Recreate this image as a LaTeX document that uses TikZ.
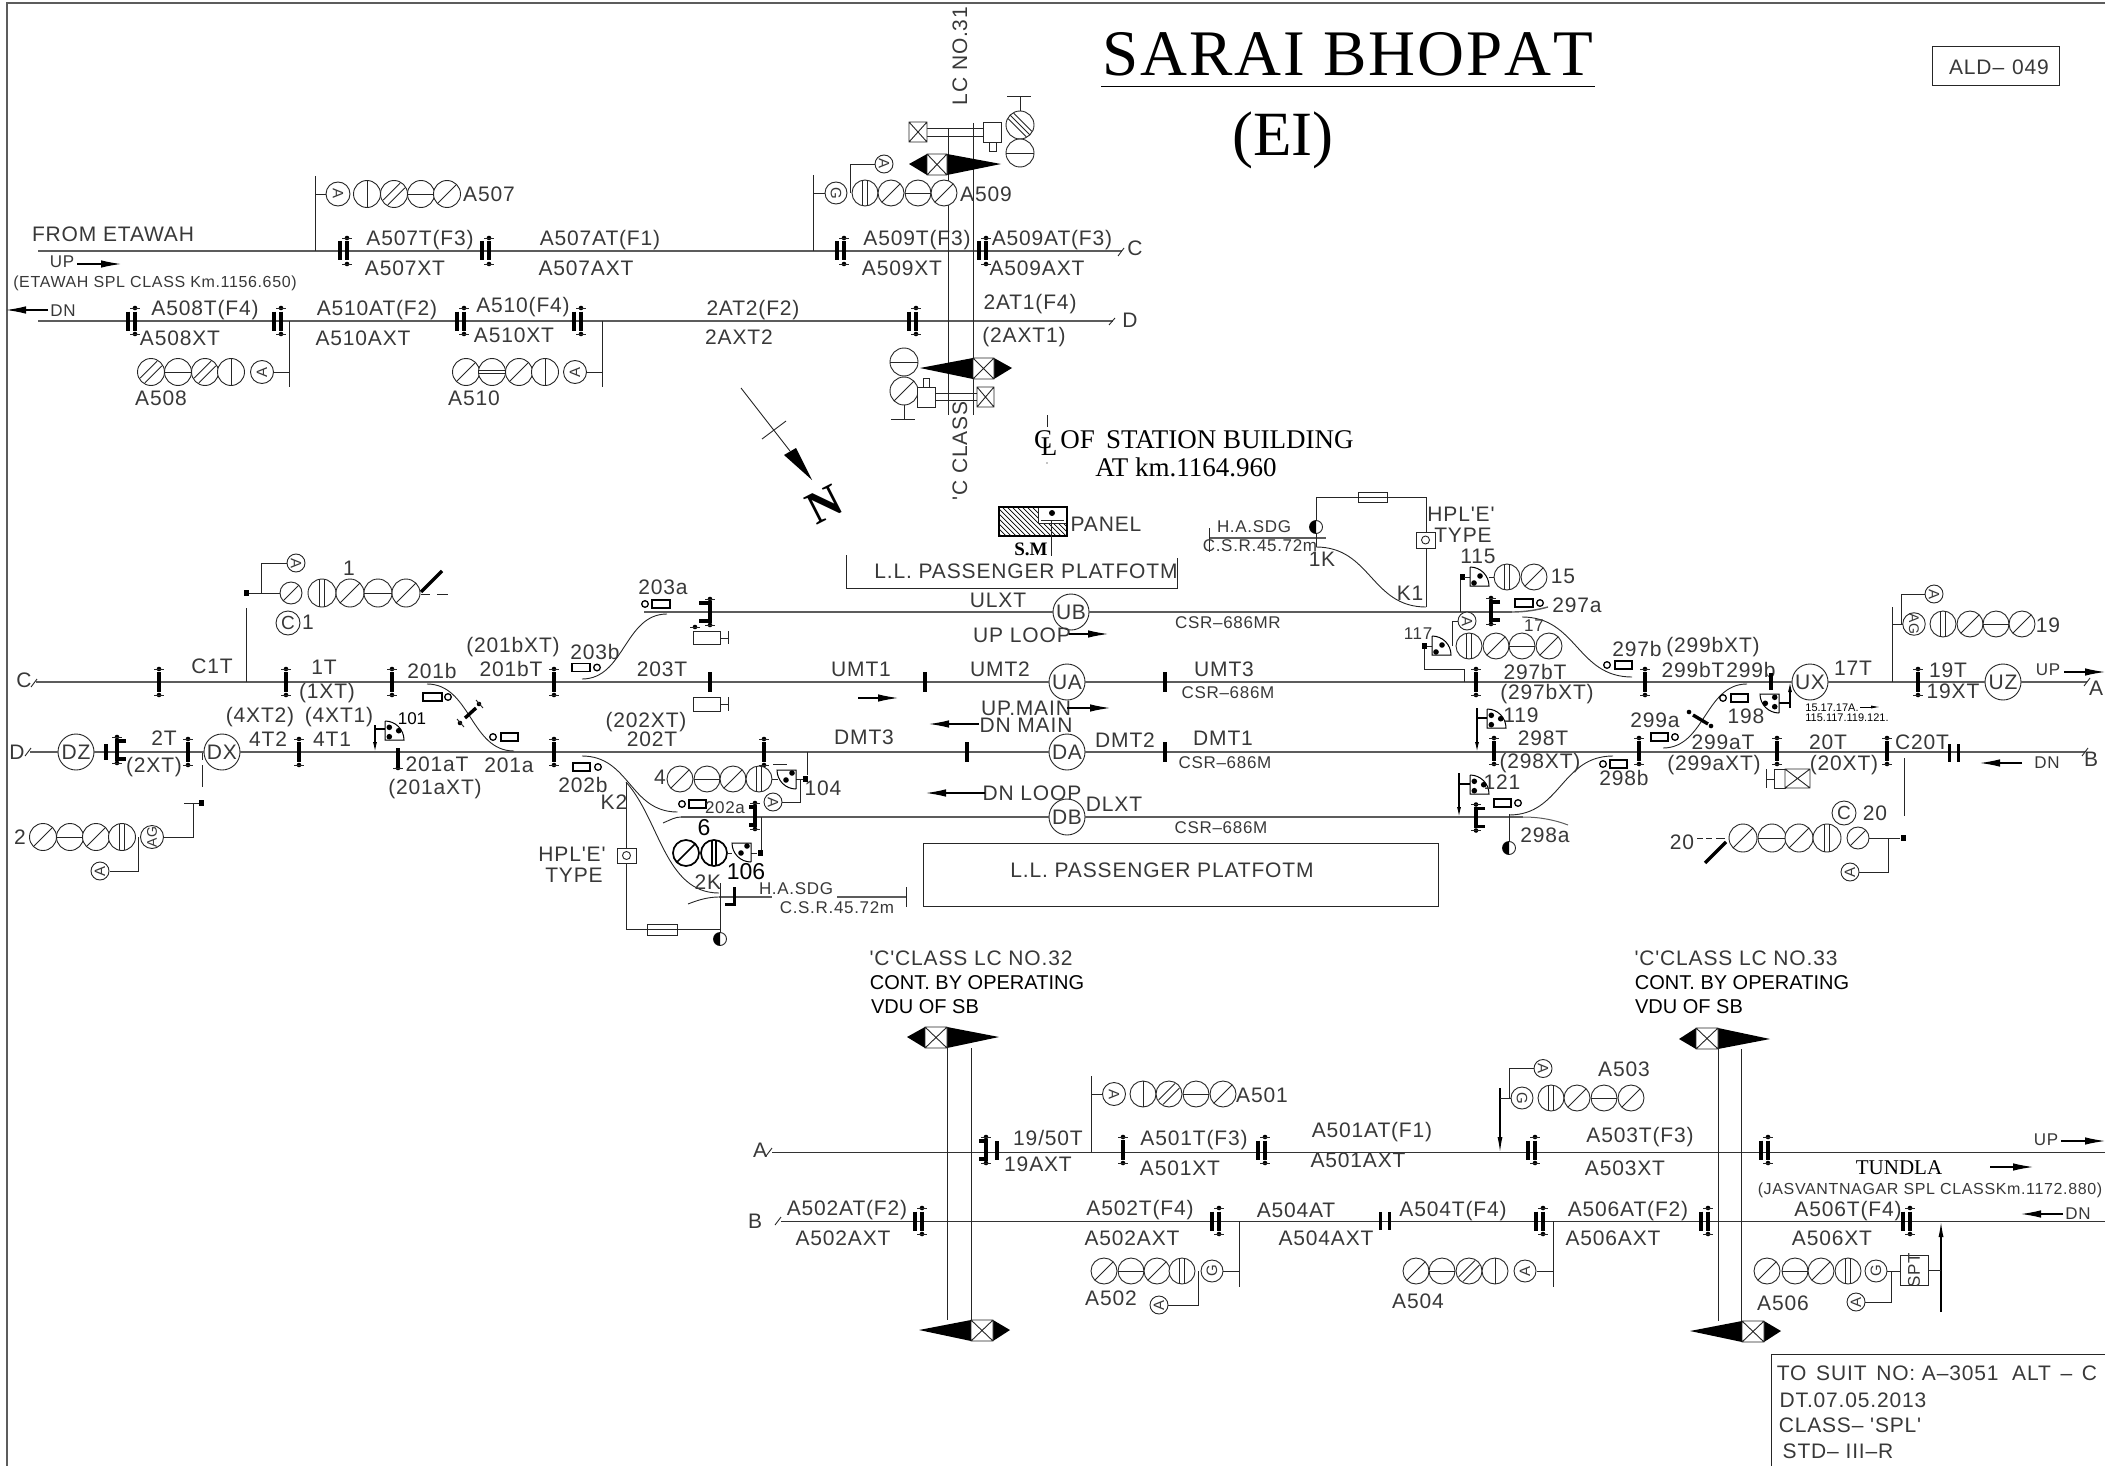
\documentclass[tikz,border=0pt]{standalone}
\usepackage{fontspec}
\usetikzlibrary{arrows.meta}
\setmainfont{Liberation Sans}
\newfontfamily\cad[LetterSpace=4]{Liberation Sans}
\newfontfamily\ser{Liberation Serif}
\definecolor{cadtext}{gray}{0.22}
\definecolor{trk}{gray}{0.36}
\newcounter{tn}
\tikzset{
  thinl/.style={line width=0.9pt,black!85},
  track/.style={line width=1.4pt,trk},
  thickb/.style={line width=3.6pt,black,line cap=butt},
  lab/.style={inner sep=0pt,text=cadtext,font=\cad\fontsize{21}{21}\selectfont},
  labs/.style={inner sep=0pt,text=cadtext,font=\cad\fontsize{17}{17}\selectfont},
  labn/.style={inner sep=0pt,text=cadtext,font=\cad\fontsize{16}{16}\selectfont},
  labb/.style={inner sep=0pt,text=black,font=\fontsize{20}{20}\selectfont},
  labt/.style={inner sep=0pt,text=black,font=\fontsize{11}{11}\selectfont},
  labser/.style={inner sep=0pt,text=black,font=\ser\fontsize{27}{27}\selectfont},
  loc/.style={circle,draw=black!85,line width=0.9pt,fill=white,minimum size=36pt,inner sep=0pt,text=cadtext,font=\cad\fontsize{21}{21}\selectfont},
  mini/.style={circle,draw=black!85,line width=0.9pt,fill=white,inner sep=0pt,text=cadtext},
  arrb/.style={line width=1.1pt,black,-{Latex[length=20pt,width=7.5pt]}},
  arrt/.style={line width=0.8pt,black,-{Latex[length=9pt,width=3pt]}}
}
% text helpers
\newcommand\lb[3]{\stepcounter{tn}\node[lab] (t\thetn) at (#1,#2) {#3};}
\newcommand\ls[3]{\stepcounter{tn}\node[labs] (t\thetn) at (#1,#2) {#3};}
\newcommand\lc[3]{\stepcounter{tn}\node[labb] (t\thetn) at (#1,#2) {#3};}
% lamp faces
\newcommand\sgV{\draw[thinl] (0,-1)--(0,1);}
\newcommand\sgW{\draw[thinl] (-.18,-.98)--(-.18,.98) (.18,-.98)--(.18,.98);}
\newcommand\sgD{\draw[thinl] (-.7,-.7)--(.7,.7);}
\newcommand\sgE{\draw[thinl] (-.8,-.45)--(.45,.8) (-.45,-.8)--(.8,.45);}
\newcommand\sgB{\draw[thinl] (-.7,.7)--(.7,-.7) (-.45,.85)--(.85,-.45) (-.85,.45)--(.45,-.85);}
\newcommand\sgH{\draw[thinl] (-1,0)--(1,0);}
\newcommand\sgI{\draw[thinl] (-.98,-.14)--(.98,-.14) (-.98,.14)--(.98,.14);}
\newcommand\sig[4]{\draw[thinl,fill=white] (#2,#3) circle[radius=#4pt];
  \begin{scope}[shift={(#2,#3)},x=#4pt,y=#4pt]\csname sg#1\endcsname\end{scope}}
\newcommand\row[3]{\foreach \tp/\xp in {#3}{\sig{\tp}{\xp}{#1}{#2}}}
% small aspect with letter
\newcommand\aspg[6]{\stepcounter{tn}\node[mini,minimum size=#4pt,rotate=#5,font=\fontsize{#6}{#6}\selectfont] (t\thetn) at (#2,#3) {#1};}
\newcommand\asp[4]{\aspg{#1}{#2}{#3}{#4}{-90}{15}}
\newcommand\aspl[4]{\aspg{#1}{#2}{#3}{#4}{90}{15}}
% track circuit joints
\newcommand\tdot[2]{\fill[black] (#1,#2) circle[radius=2.3pt]; \draw[thinl] (#1-5,#2)--(#1+5,#2);}
\newcommand\tcs[2]{\draw[thickb] (#1,#2-10)--(#1,#2+10); \tdot{#1}{#2-13}\tdot{#1}{#2+13}}
\newcommand\tcd[2]{\draw[thickb] (#1-7,#2-9.5)--(#1-7,#2+9.5) (#1,#2-9.5)--(#1,#2+9.5); \tdot{#1}{#2-13}\tdot{#1}{#2+13}}
\newcommand\tcdb[2]{\draw[thickb] (#1-4.5,#2-9)--(#1-4.5,#2+9) (#1+4.5,#2-9)--(#1+4.5,#2+9);}
\newcommand\tch[3]{\draw[line width=3.2pt,black,line join=miter] (#1+#3,#2-9)--(#1,#2-9)--(#1,#2+9)--(#1+#3,#2+9); \tdot{#1}{#2-13}\tdot{#1}{#2+13}}
% point machine, rectangle x1..x2, circle
\newcommand\ptm[5]{\draw[line width=1.3pt,black] (#1,#3-4) rectangle (#2,#3+4); \draw[line width=1.3pt,black,fill=white] (#4,#5) circle[radius=3.3pt]; }
% quarter shunt
\newcommand\shunt[5]{\begin{scope}[shift={(#1,#2)},x=#3pt,y=#4pt]
  \draw[line width=1pt,black,fill=white] (0,19)--(0,0)--(19,0) .. controls (19,10.5) and (10.5,19) .. (0,19);
  \ifnum#5=3 \fill[black] (4.3,12.7) circle[radius=2.8pt] (13.7,9.3) circle[radius=2.8pt] (4.3,3.3) circle[radius=2.8pt];
  \else \fill[black] (10,10) circle[radius=2.8pt] (4,3) circle[radius=2.8pt];\fi
  \end{scope}}
\newcommand\sq[2]{\fill[black] (#1-2.5,#2-3) rectangle (#1+2.5,#2+3);}
\newcommand\xbox[4]{\draw[thinl,fill=white] (#1,#2) rectangle (#3,#4) (#1,#2)--(#3,#4) (#1,#4)--(#3,#2);}
\newcommand\gate[7]{\fill[black] (#1,#7)--(#2,#4)--(#2,#5)--cycle (#3,#4)--(#6,#7)--(#3,#5)--cycle; \xbox{#2}{#4}{#3}{#5}}
\newcommand\fuse[4]{\draw[thinl,fill=white] (#1,#3) rectangle (#2,#4); \draw[thinl] (#1,#3/2+#4/2)--(#2,#3/2+#4/2);}
\newcommand\halfd[2]{\draw[thinl,fill=white] (#1,#2) circle[radius=6.5pt]; \fill[black] (#1,#2-6.5) arc[start angle=90,end angle=270,radius=6.5pt]--cycle;}
\newcommand\scurve[4]{\draw[thinl] (#1,#2) .. controls ({#1/2+#3/2},#2) and ({#1/2+#3/2},#4) .. (#3,#4);}
\begin{document}
\begin{tikzpicture}[x=1pt,y=-1pt]
\useasboundingbox (0,0) rectangle (2105,1466);
\draw[line width=1.5pt,trk] (7,1466)--(7,3)--(2105,3);
%% ------- named track nodes
\node[loc] (DZ) at (76,752) {DZ};
\node[loc] (DX) at (222,752) {DX};
\node[loc] (UB) at (1071,612) {UB};
\node[loc] (UA) at (1067,682) {UA};
\node[loc] (DA) at (1067,752) {DA};
\node[loc] (DB) at (1067,817) {DB};
\node[loc] (UX) at (1810,682) {UX};
\node[loc] (UZ) at (2003,682) {UZ};
\coordinate (uW) at (38,251); \coordinate (uE) at (1122,251);
\coordinate (dW) at (38,321); \coordinate (dE) at (1113,321);
\coordinate (cW) at (36,682); \coordinate (cE) at (2087,682);
\coordinate (gW) at (30,752); \coordinate (gE) at (2085,752);
\coordinate (ubW) at (644,612); \coordinate (ubE) at (1512,612);
\coordinate (dbW) at (681,817); \coordinate (dbE) at (1523,817);
\coordinate (aW) at (772,1152); \coordinate (aE) at (2105,1152);
\coordinate (bW) at (781,1221); \coordinate (bE) at (2105,1221);
\draw[track] (uW)--(uE); \draw[track] (dW)--(dE);
\draw[track] (cW)--(UA)--(UX)--(UZ)--(cE);
\draw[track] (gW)--(DZ)--(DX)--(DA)--(gE);
\draw[track] (ubW)--(UB)--(ubE);
\draw[track] (dbW)--(DB)--(dbE);
\draw[line width=1pt,black!80] (aW)--(aE); \draw[line width=1pt,black!80] (bW)--(bE);
% track-end slashes
\draw[thinl] (1118,256)--(1124,248) (1109,325)--(1115,318) (31,687)--(37,679) (25,756)--(31,748)
 (2084,686)--(2090,678) (2082,756)--(2088,748) (766,1156)--(772,1148) (775,1225)--(781,1217);
%% ------- title
\node[inner sep=0pt,text=black,font=\ser\fontsize{65}{65}\selectfont] (title) at (1348,54) {S\kern2pt A\kern2pt R\kern2pt A\kern2pt I\kern2pt\ B\kern2pt H\kern2pt O\kern2pt P\kern2pt A\kern2pt T};
\draw[line width=1pt,black] (1101,87)--(1595,87);
\node[inner sep=0pt,text=black,font=\ser\fontsize{63}{63}\selectfont] (ei) at (1283,140) {(EI)};
\draw[thinl] (1932,46) rectangle (2059,85);
\lb{1999}{67}{ALD–\hspace{8pt}049}
%% ------- upper left
\lb{113}{234}{FROM ETAWAH}
\ls{62}{262}{UP} \draw[arrb] (77,264)--(121,264);
\stepcounter{tn}\node[labn] (t\thetn) at (155,283) {(ETAWAH SPL CLASS Km.1156.650)};
\ls{63}{311}{DN} \draw[arrb] (48,310)--(6,310);
\tcd{347}{251}\tcd{489}{251}\tcd{844}{251}\tcd{986}{251}
\tcd{135}{321}\tcd{281}{321}\tcd{464}{321}\tcd{581}{321}\tcd{916}{321}
\lb{420}{240}{A507T(F3)} \lb{405}{268}{A507XT}
\lb{600}{240}{A507AT(F1)} \lb{586}{268}{A507AXT}
\lb{917}{240}{A509T(F3)} \lb{902}{268}{A509XT}
\lb{1052}{240}{A509AT(F3)} \lb{1037}{268}{A509AXT}
\lb{1030}{304}{2AT1(F4)} \lb{1024}{337}{(2AXT1)}
\lb{753}{310}{2AT2(F2)} \lb{739}{337}{2AXT2}
\lb{205}{310}{A508T(F4)} \lb{180}{338}{A508XT}
\lb{377}{310}{A510AT(F2)} \lb{363}{338}{A510AXT}
\lb{523}{307}{A510(F4)} \lb{514}{335}{A510XT}
\lb{1135}{248}{C} \lb{1130}{320}{D}
% A507
\draw[thinl] (315,176)--(315,251) (315,194)--(327,194);
\row{194}{13.5}{V/367,E/394,H/421,D/447}
\asp{A}{338}{194}{24}
\lb{489}{194}{A507}
% A508
\draw[thinl] (289,321)--(289,387) (289,372)--(273,372);
\row{372}{13.5}{E/151,H/178,E/205,V/231}
\aspl{A}{262}{372}{23}
\lb{161}{398}{A508}
% A510
\draw[thinl] (602,321)--(602,387) (602,372)--(586,372);
\row{372}{13.5}{D/466,I/492,D/519,V/545}
\aspl{A}{575}{372}{23}
\lb{474}{398}{A510}
% north arrow
\coordinate (nA) at (741,388); \coordinate (nB) at (790,451);
\draw[thinl] (nA)--(nB); \draw[thinl] (762,439)--(786,421);
\fill[black] (784,455)--(796,448)--(812,480)--cycle;
\node[inner sep=0pt,text=black,font=\ser\bfseries\fontsize{46}{46}\selectfont,rotate=27] (north) at (824,505) {N};
%% ------- LC 31
\draw[thinl] (948,128)--(948,415) (973,123)--(973,415);
\draw[thinl] (927,128)--(983,128) (927,136)--(983,136);
\xbox{909}{122}{927}{142}
\draw[thinl,fill=white] (983,122) rectangle (1001,142);
\draw[thinl,fill=white] (989,142) rectangle (996,151);
\sig{B}{1020}{125}{14}\sig{H}{1020}{153}{14}
\draw[thinl] (1020,111)--(1020,96) (1007,96)--(1031,96);
\gate{909}{927}{947}{154}{175}{1001}{164}
\gate{920}{973}{994}{358}{379}{1012}{368}
\sig{H}{904}{362}{14}\sig{D}{904}{391}{14}
\draw[thinl] (904,405)--(904,419) (891,419)--(915,419);
\draw[thinl] (935,393)--(977,393) (935,400)--(977,400);
\draw[thinl,fill=white] (917,387) rectangle (935,407);
\draw[thinl,fill=white] (923,378) rectangle (929,387);
\xbox{977}{387}{994}{407}
\node[lab,rotate=90] (lc31) at (960,56) {LC NO.31};
\node[lab,rotate=90] (cclass) at (960,451) {'C CLASS};
% A509
\draw[thinl] (813,175)--(813,251) (813,193)--(825,193);
\draw[thinl] (850,193)--(850,164)--(875,164);
\row{193}{13}{W/865,D/891,H/918,D/944}
\asp{G}{836}{193}{22}
\asp{A}{884}{164}{18}
\lb{986}{194}{A509}
%% ------- CL of station
\draw[thinl] (1047,415)--(1047,427); \fill[black] (1047,463) circle[radius=.7pt];
\node[labser] (clc) at (1043,440) {C};
\node[labser] (cll) at (1049,447) {L};
\node[labser] (stn1) at (1207,440) {OF\, STATION BUILDING};
\node[labser] (stn2) at (1186,467) {AT km.1164.960};
%% ------- panel
\begin{scope}
\clip (999,507) rectangle (1067,536);
\foreach \d in {0,5,...,100}{\draw[line width=.7pt,black] (950+\d,500)--(990+\d,540);}
\end{scope}
\draw[thinl,fill=white] (1038,507) rectangle (1067,523);
\draw[line width=1.1pt,black] (999,507) rectangle (1067,536);
\fill[black] (1052,513) circle[radius=3pt];
\draw[thinl] (1041,520)--(1064,520) (1051,520)--(1051,556);
\node[inner sep=0pt,text=black,font=\ser\bfseries\fontsize{19}{19}\selectfont] (sm) at (1031,549) {S.M};
\lb{1106}{524}{PANEL}
\draw[thinl] (846,555)--(846,588)--(1177,588)--(1177,558);
\lb{1026}{571}{L.L. PASSENGER PLATFOTM}
\draw[thinl] (923,843) rectangle (1438,906);
\lb{1162}{870}{L.L. PASSENGER PLATFOTM}
%% ------- left main yard
\lb{24}{680}{C} \lb{17}{752}{D}
\tcs{159}{682}\tcs{286}{682}\tcs{392}{682}\tcs{554}{682}
\tcs{188}{752}\tcs{299}{752}\tcs{554}{752}\tcs{764}{752}
\draw[thickb] (106,744)--(106,760);
\tch{117}{750}{9}
\draw[thickb] (398,748)--(398,768); \tdot{398}{768}
\lb{212}{666}{C1T} \lb{324}{667}{1T} \lb{327}{693}{(1XT)} \lb{432}{671}{201b}
\lb{513}{647}{(201bXT)} \lb{511}{669}{201bT}
\lb{260}{717}{(4XT2)} \lb{339}{717}{(4XT1)}
\lb{164}{738}{2T} \lb{154}{767}{(2XT)} \lb{268}{739}{4T2} \lb{332}{739}{4T1}
\lb{437}{764}{201aT} \lb{435}{789}{(201aXT)} \lb{509}{765}{201a}
\stepcounter{tn}\node[inner sep=0pt,font=\fontsize{17}{17}\selectfont,text=black] (t\thetn) at (412,719) {101};
% signal 1
\draw[thinl] (246,593)--(280,593) (261,593)--(261,563)--(287,563) (246,608)--(246,682);
\sq{246}{593}
\sig{D}{291}{593}{11}
\row{593}{14}{W/322,D/350,H/378,D/406}
\asp{A}{296}{563}{18}
\draw[line width=3.4pt,black] (421,592)--(442,571);
\draw[thinl] (421,594)--(430,594) (437,594)--(448,594);
\lb{349}{568}{1}
\stepcounter{tn}\node[circle,draw=black!85,line width=.9pt,minimum size=24pt,inner sep=0pt,font=\cad\fontsize{19}{19}\selectfont,text=cadtext] (t\thetn) at (288,623) {C};
\lb{308}{622}{1}
% signal 2
\draw[thinl] (202,753)--(202,760) (202,765)--(202,787);
\draw[thinl] (184,803)--(201,803) (193,803)--(193,837)--(164,837) (138,837)--(138,871)--(110,871);
\sq{201}{803}
\row{837}{13.5}{D/43,H/70,D/96,W/122}
\aspg{AG}{152}{837}{23}{90}{14}
\aspl{A}{100}{871}{18}
\lb{20}{837}{2}
% 201 crossover
\scurve{427}{684}{514}{751}
\draw[line width=3.4pt,black] (465,718)--(476,708);
\fill[black] (460,723) circle[radius=2.3pt] (479,704) circle[radius=2.3pt];
\draw[thinl] (457,719)--(464,727) (476,700)--(483,708);
\ptm{423}{442}{697}{448}{697}
\ptm{501}{518}{737}{493}{737}
% 101
\draw[line width=1.2pt,black,-{Latex[length=10pt,width=4pt]}] (375,725)--(375,752);
\draw[line width=2.2pt,black] (375,729)--(385,729);
\shunt{385}{740}{1}{1}{3}
%% ------- centre-left
\tch{710}{612}{-11}
\tdot{695}{627}
\draw[thinl] (693,631) rectangle (720,644) (720,638)--(728,638) (728,631)--(728,644);
\draw[thickb] (710,672)--(710,692);
\draw[thinl] (693,697) rectangle (720,711) (720,704)--(728,704) (728,697)--(728,711);
\draw[thickb] (925,672)--(925,692) (1165,672)--(1165,692) (967,742)--(967,762) (1165,742)--(1165,762);
\scurve{582}{679}{667}{614}
\scurve{582}{756}{677.5}{812}
\draw[thinl] (626,782) .. controls (660,820) and (665,893) .. (719,893);
\draw[thinl] (663,823) .. controls (670,820) and (675,817) .. (681,817);
\draw[thinl] (688,904) .. controls (698,900) and (708,897) .. (719,897);
\ptm{652}{670}{604}{645}{604}
\ptm{572}{590}{667.5}{597}{667.5}
\ptm{573}{590}{767}{598}{767}
\ptm{689}{706}{804}{682}{804}
\lb{663}{587}{203a} \lb{595}{652}{203b} \lb{662}{669}{203T}
\lb{646}{722}{(202XT)} \lb{652}{739}{202T} \lb{583}{785}{202b}
\lb{660}{777}{4} \ls{725}{808}{202a} \lb{823}{788}{104}
\lb{998}{600}{ULXT} \lb{1022}{635}{UP LOOP} \lb{861}{669}{UMT1} \lb{1000}{669}{UMT2}
\lb{1026}{708}{UP.MAIN} \lb{1026}{725}{DN MAIN} \lb{864}{737}{DMT3} \lb{1032}{793}{DN LOOP}
\lb{1125}{740}{DMT2} \lb{1114}{804}{DLXT}
\draw[arrb] (1069,634)--(1108,634);
\draw[arrb] (858,698)--(898,698);
\draw[arrb] (1067,708)--(1110,708);
\draw[arrb] (979,724)--(929,724);
\draw[arrb] (985,793)--(926,793);
% signal 4 / 104
\draw[thinl] (772,779)--(778,779) (796,779)--(805,779) (807,752)--(807,775) (800,779)--(800,802)--(782,802) (773,764)--(787,764);
\row{779}{13}{D/680,H/707,D/733,W/759}
\shunt{796}{770}{-1}{-1}{2}
\sq{805}{779}
\asp{A}{773}{802}{18}
% 202a joint
\tch{755}{816}{-6}
\draw[thinl] (761,817)--(761,853) (751,853)--(757,853);
\sq{760}{853}
% signal 6 / 106
\draw[line width=1.7pt,black,fill=white] (686,853) circle[radius=13pt]; \draw[line width=1.7pt,black] (677,862)--(695,844);
\draw[line width=1.7pt,black,fill=white] (714,853) circle[radius=13pt]; \draw[line width=1.2pt,black] (712,840)--(712,866) (716,840)--(716,866);
\draw[thinl] (727,853)--(732,853);
\shunt{751}{843}{-1}{-1}{2}
\stepcounter{tn}\node[inner sep=0pt,font=\fontsize{23}{23}\selectfont,text=black] (t\thetn) at (704,828) {6};
\stepcounter{tn}\node[inner sep=0pt,font=\fontsize{23}{23}\selectfont,text=black] (t\thetn) at (746,872) {106};
% siding 2K
\draw[track,line width=1.2pt] (719,897)--(772,897) (837,897)--(906,897);
\draw[thinl] (906,887)--(906,907);
\draw[line width=3pt,black] (734,887)--(734,904)--(725,904);
\draw[thinl] (720,883)--(720,933) (626,782)--(626,929)--(720,929);
\fuse{647}{677}{924}{935}
\draw[thinl,fill=white] (617,848) rectangle (636,863); \draw[thinl] (626.5,855.5) circle[radius=4pt];
\halfd{720}{939}
\lb{614}{802}{K2} \lb{572}{854}{HPL'E'} \lb{574}{875}{TYPE} \lb{708}{882}{2K}
\ls{796}{889}{H.A.SDG} \ls{837}{908}{C.S.R.45.72m}
%% ------- right side yard
\draw[track] (1512,612) .. controls (1525,612) and (1537,610) .. (1548,607);
\draw[track,line width=1pt] (1523,817) .. controls (1540,817) and (1555,820) .. (1568,825);
\scurve{1522}{617}{1632}{677}
\scurve{1509}{815}{1613}{756}
\scurve{1663}{748}{1747}{684}
\scurve{1316}{547}{1426}{607}
\ptm{1515}{1533}{603}{1540}{603}
\ptm{1615}{1632}{665}{1607}{665}
\ptm{1494}{1511}{803}{1518}{803}
\ptm{1610}{1627}{764}{1603}{764}
\ptm{1651}{1668}{737}{1675}{737}
\ptm{1731}{1748}{698}{1723}{698}
% K1
\draw[track,line width=1.1pt] (1209,538)--(1326,538);
\draw[thinl] (1209,528)--(1209,552) (1316,547)--(1316,497)--(1426,497)--(1426,607);
\fuse{1358}{1387}{492}{502}
\draw[thinl,fill=white] (1416,532) rectangle (1435,548); \draw[thinl] (1425.5,540) circle[radius=4pt];
\halfd{1316}{527}
\ls{1254}{527}{H.A.SDG} \ls{1260}{546}{C.S.R.45.72m}
\lb{1461}{514}{HPL'E'} \lb{1463}{535}{TYPE} \lb{1322}{559}{1K} \lb{1410}{593}{K1}
% 115/15
\draw[thinl] (1460,577)--(1460,612) (1489,577)--(1494,577);
\sq{1462}{577}\draw[thinl] (1464,577)--(1470,577);
\shunt{1470}{586}{1}{1}{2}
\row{577}{13}{W/1507,D/1534}
\lb{1478}{556}{115} \lb{1563}{576}{15}
\tch{1491}{611}{9}
% 117/17
\draw[thinl] (1424,646)--(1424,669)--(1464,669)--(1464,682) (1452,646)--(1452,621)--(1458,621) (1426,646)--(1432,646);
\sq{1424}{646}
\shunt{1432}{655}{1}{1}{2}
\row{646}{13}{W/1469,D/1496,H/1522,D/1549}
\asp{A}{1467}{621}{18}
\ls{1418}{634}{117} \ls{1534}{626}{17}
\tcs{1476}{682}\tcs{1645}{682}
\lb{1535}{672}{297bT} \lb{1547}{694}{(297bXT)} \lb{1577}{605}{297a} \lb{1637}{649}{297b}
\ls{1228}{623}{CSR–686MR} \ls{1228}{693}{CSR–686M} \ls{1225}{763}{CSR–686M} \ls{1221}{828}{CSR–686M}
\lb{1224}{669}{UMT3} \lb{1223}{738}{DMT1}
% 119
\draw[line width=1.2pt,black,-{Latex[length=10pt,width=4pt]}] (1477,708)--(1477,752);
\draw[line width=2.2pt,black] (1477,718)--(1487,718);
\shunt{1487}{728}{1}{1}{3}
\lb{1521}{715}{119}
\tcs{1494}{751}\tcs{1639}{751}
\lb{1543}{738}{298T} \lb{1540}{763}{(298XT)} \lb{1624}{778}{298b} \lb{1655}{720}{299a}
% 121
\draw[line width=1.2pt,black,-{Latex[length=10pt,width=4pt]}] (1459,773)--(1459,817);
\draw[line width=2.2pt,black] (1459,784)--(1470,784);
\shunt{1470}{794}{1}{1}{3}
\lb{1502}{782}{121}
\tch{1476}{817.5}{9}
\draw[thinl] (1509,814)--(1509,842);
\halfd{1509}{848}
\lb{1545}{835}{298a}
% far right
\lb{1713}{647}{(299bXT)} \lb{1693}{670}{299bT} \lb{1751}{670}{299b}
\draw[thickb] (1771,673)--(1771,690);
\draw[line width=1.2pt,black,-{Latex[length=10pt,width=4pt]}] (1790,708)--(1790,682);
\draw[line width=2.2pt,black] (1779,703)--(1790,703);
\shunt{1779}{694}{-1}{-1}{3}
\lb{1746}{716}{198}
\lb{1853}{668}{17T}
\stepcounter{tn}\node[labt] (t\thetn) at (1832,708) {15.17.17A.};
\stepcounter{tn}\node[labt] (t\thetn) at (1847,718) {115.117.119.121.};
\draw[arrt] (1860,707)--(1880,707);
\draw[thinl] (1892,607)--(1892,682) (1892,624)--(1903,624) (1901,624)--(1901,594)--(1925,594);
\aspg{AG}{1914}{624}{22}{-90}{14}
\asp{A}{1934}{594}{18}
\row{624}{13}{W/1943,D/1970,H/1996,D/2022}
\lb{2048}{625}{19}
\tcs{1918}{682}
\lb{1948}{670}{19T} \lb{1953}{691}{19XT}
\ls{2048}{670}{UP} \draw[arrb] (2064,672)--(2105,672);
\lb{2096}{688}{A} \lb{2091}{759}{B}
\ls{2047}{763}{DN} \draw[arrb] (2022,763)--(1980,763);
\draw[line width=3.4pt,black] (1693,715)--(1708,724);
\fill[black] (1689,712) circle[radius=2.3pt] (1711,726) circle[radius=2.3pt];
\lb{1723}{742}{299aT} \lb{1714}{765}{(299aXT)}
\tcs{1777}{751}\tcs{1887}{751}
\lb{1828}{742}{20T} \lb{1844}{765}{(20XT)} \lb{1922}{742}{C20T}
\tcdb{1954}{753}
\draw[thinl] (1774,769) rectangle (1785,788) (1774,779)--(1766,779) (1766,769)--(1766,788);
\xbox{1785}{769}{1810}{788}
\draw[thinl] (1904,758)--(1904,816);
% signal 20
\draw[thinl] (1869,838)--(1900,838) (1888,838)--(1888,872)--(1859,872) (1697,838)--(1703,838) (1706,838)--(1712,838) (1716,838)--(1725,838);
\sq{1903}{838}
\row{838}{14}{D/1743,H/1772,D/1799,W/1827}
\sig{D}{1858}{838}{11}
\aspl{A}{1850}{872}{18}
\draw[line width=3.4pt,black] (1705,863)--(1726,842);
\stepcounter{tn}\node[circle,draw=black!85,line width=.9pt,minimum size=24pt,inner sep=0pt,font=\cad\fontsize{19}{19}\selectfont,text=cadtext] (t\thetn) at (1844,813) {C};
\lb{1875}{813}{20} \lb{1682}{842}{20}
%% ------- lower line
\draw[thinl] (947,1048)--(947,1320) (971,1048)--(971,1320);
\draw[thinl] (1718,1049)--(1718,1321) (1741,1049)--(1741,1321);
\gate{907}{925}{947}{1027}{1048}{999}{1037}
\gate{919}{971}{993}{1320}{1341}{1010}{1330}
\gate{1679}{1696}{1718}{1028}{1049}{1770}{1039}
\gate{1690}{1742}{1764}{1321}{1342}{1781}{1331}
\lb{971}{958}{'C'CLASS LC NO.32} \lc{977}{983}{CONT. BY OPERATING} \lc{925}{1007}{VDU OF SB}
\lb{1736}{958}{'C'CLASS LC NO.33} \lc{1742}{983}{CONT. BY OPERATING} \lc{1689}{1007}{VDU OF SB}
\lb{760}{1150}{A} \lb{755}{1221}{B}
\tch{986}{1150}{-7}
\draw[thickb] (997,1141)--(997,1160);
\lb{1048}{1138}{19/50T} \lb{1038}{1164}{19AXT}
\draw[thinl] (1091,1076)--(1091,1152) (1091,1094)--(1103,1094);
\asp{A}{1114}{1094}{23}
\row{1094}{13}{V/1143,E/1169,H/1196,D/1223}
\lb{1262}{1095}{A501}
\tcs{1123}{1150}\tcd{1265}{1150}\tcd{1535}{1150}\tcd{1768}{1150}
\lb{1194}{1140}{A501T(F3)} \lb{1180}{1168}{A501XT} \lb{1372}{1132}{A501AT(F1)} \lb{1358}{1160}{A501AXT}
\lb{847}{1210}{A502AT(F2)} \lb{843}{1238}{A502AXT}
\tcd{922}{1221}\tcd{1219}{1221}\tcd{1543}{1221}\tcd{1708}{1221}\tcd{1910}{1221}
\lb{1140}{1210}{A502T(F4)} \lb{1132}{1238}{A502AXT}
\lb{1296}{1210}{A504AT} \lb{1326}{1238}{A504AXT} \tcdb{1385}{1221}
\lb{1453}{1211}{A504T(F4)}
\draw[thinl] (1239,1221)--(1239,1287) (1239,1271)--(1223,1271) (1198,1271)--(1198,1305)--(1168,1305);
\row{1271}{13}{D/1104,H/1131,D/1157,W/1182}
\aspl{G}{1212}{1271}{22}
\aspl{A}{1159}{1305}{18}
\lb{1111}{1298}{A502}
\draw[thinl] (1553.5,1221)--(1553.5,1287) (1553.5,1271)--(1537,1271);
\row{1271}{13}{D/1416,H/1442,E/1469,V/1495}
\aspl{A}{1525}{1271}{22}
\lb{1418}{1301}{A504}
% A503
\draw[line width=1.1pt,black,-{Latex[length=15pt,width=5pt]}] (1500,1088)--(1500,1152);
\draw[thinl] (1500,1098)--(1511,1098) (1509,1098)--(1509,1068.5)--(1535,1068.5);
\asp{G}{1522}{1098}{22}
\asp{A}{1543}{1068.5}{18}
\row{1098}{13}{W/1551,D/1577,H/1604,D/1631}
\lb{1624}{1069.5}{A503}
\lb{1640}{1137.5}{A503T(F3)} \lb{1625}{1168}{A503XT}
\lb{1628}{1211}{A506AT(F2)} \lb{1613}{1238}{A506AXT}
\lb{1848}{1211}{A506T(F4)} \lb{1832}{1238}{A506XT}
\ls{2046}{1140}{UP} \draw[arrb] (2061,1141)--(2105,1141);
\node[inner sep=0pt,text=black,font=\ser\fontsize{21}{21}\selectfont] (tund) at (1899,1168) {TUNDLA};
\draw[arrb] (1990,1167)--(2033,1167);
\stepcounter{tn}\node[labn] (t\thetn) at (1930,1190.5) {(JASVANTNAGAR SPL CLASSKm.1172.880)};
\draw[arrb] (2063,1214)--(2021,1214); \ls{2078}{1214}{DN}
% A506
\draw[line width=1.1pt,black,-{Latex[length=15pt,width=5pt]}] (1941,1312)--(1941,1222);
\draw[thinl] (1928,1270)--(1941,1270) (1887,1271)--(1900,1271) (1891,1271)--(1891,1302)--(1865,1302);
\draw[thinl,fill=white] (1900,1255) rectangle (1928,1285);
\node[labs,rotate=90] (spt) at (1914,1270) {SPT};
\row{1271}{13}{D/1767,H/1795,D/1821,W/1848}
\aspl{G}{1876}{1271}{22}
\aspl{A}{1856}{1302}{18}
\lb{1783}{1303}{A506}
%% ------- title block
\draw[thinl] (2105,1354)--(1771,1354)--(1771,1466);
\lb{1937}{1373}{TO\hspace{3pt} SUIT\hspace{3pt} NO: A–3051\hspace{7pt} ALT\hspace{3pt} –\hspace{3pt} C}
\lb{1853}{1400}{DT.07.05.2013}
\lb{1850}{1425}{CLASS– 'SPL'}
\lb{1838}{1451}{STD– III–R}
\end{tikzpicture}
\end{document}
